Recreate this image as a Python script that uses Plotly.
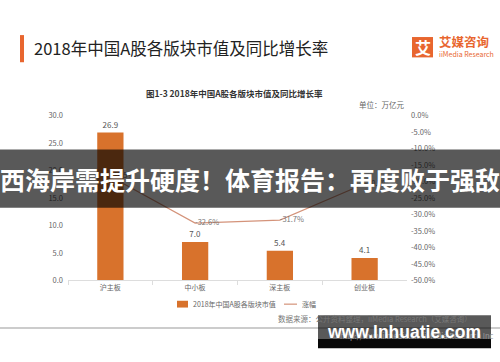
import plotly.graph_objects as go

W, H = 500, 362
FONT = "Noto Sans CJK SC"

categories = ["沪主板", "中小板", "深主板", "创业板"]
market_value = [26.9, 7.0, 5.4, 4.1]
growth = [-18.5, -32.6, -31.7, -20.7]
growth_labels = ["-18.5%", "-32.6%", "-31.7%", "-20.7%"]
left_ticks = [0, 5, 10, 15, 20, 25, 30]
left_tick_labels = ["0.0", "5.0", "10.0", "15.0", "20.0", "25.0", "30.0"]
right_ticks = [0, -5, -10, -15, -20, -25, -30, -35, -40, -45, -50]
right_tick_labels = ["0.0%", "-5.0%", "-10.0%", "-15.0%", "-20.0%", "-25.0%",
                     "-30.0%", "-35.0%", "-40.0%", "-45.0%", "-50.0%"]
bar_name = "2018年中国A股各版块市值"
line_name = "涨幅"

BAR = "#D8722C"
LINE = "#D4937A"
GRAY = "#666666"

def px(x):
    return x / W

def py(y):
    return 1 - y / H

fig = go.Figure()
fig.add_trace(go.Bar(
    x=categories, y=market_value, name=bar_name,
    marker=dict(color=BAR, line=dict(width=0)), width=0.31,
    text=[f"{v:.1f}" for v in market_value], textposition="outside",
    textfont=dict(size=8, color="#555555", family=FONT), cliponaxis=False,
))
fig.add_trace(go.Scatter(
    x=categories, y=growth, name=line_name, yaxis="y2", mode="lines+text",
    line=dict(color=LINE, width=1.2),
    text=growth_labels, textposition="middle right",
    textfont=dict(size=7.5, color="#777777", family=FONT), cliponaxis=False,
))

fig.update_layout(
    width=W, height=H, margin=dict(l=0, r=0, t=0, b=0),
    paper_bgcolor="white", plot_bgcolor="white",
    font=dict(family=FONT, size=8, color=GRAY),
    showlegend=False,
    xaxis=dict(domain=[px(68), px(407)], range=[-0.5, 3.5], showgrid=False,
               showline=True, linecolor="#dddddd", linewidth=1,
               ticks="outside", tickson="boundaries", ticklen=4,
               tickcolor="#dddddd", tickfont=dict(size=7, color=GRAY),
               anchor="y"),
    yaxis=dict(domain=[py(283), py(113)], range=[0, 30], showgrid=False,
               zeroline=False, showline=False, tickvals=left_ticks,
               ticktext=left_tick_labels, ticklabelstandoff=4,
               tickfont=dict(size=7.5, color=GRAY)),
    yaxis2=dict(overlaying="y", side="right", range=[-50, 0], showgrid=False,
                zeroline=False, showline=False, tickvals=right_ticks,
                ticktext=right_tick_labels, ticklabelstandoff=3,
                tickfont=dict(size=7.5, color=GRAY), anchor="x"),
)

P = dict(xref="paper", yref="paper")

shapes = [
    dict(type="rect", x0=px(20), x1=px(24), y0=py(58), y1=py(30),
         fillcolor="#E8662F", line=dict(width=0), **P),
    dict(type="rect", x0=px(412), x1=px(433), y0=py(53), y1=py(32),
         fillcolor="#E8662F", line=dict(width=0), **P),
    dict(type="line", x0=0, x1=1, y0=py(332), y1=py(332),
         line=dict(color="#cccccc", width=2), **P),
    # legend keys
    dict(type="rect", x0=px(177), x1=px(188), y0=py(311), y1=py(304),
         fillcolor=BAR, line=dict(width=0), **P),
    dict(type="line", x0=px(284), x1=px(297), y0=py(307.5), y1=py(307.5),
         line=dict(color=LINE, width=1.2), **P),
]

def ann(text, x, y, size, color, xanchor="left", family=FONT):
    return dict(text=text, x=px(x), y=py(y), xanchor=xanchor,
                yanchor="middle", showarrow=False,
                font=dict(size=size, color=color, family=family), **P)

annotations = [
    ann("2018年中国A股各版块市值及同比增长率", 32, 43, 16.5, "#222222"),
    ann("<b>艾</b>", 422.5, 42.5, 16, "white", "center"),
    ann("<b>艾媒咨询</b>", 437, 37, 12.5, "#E8662F"),
    ann("iiMedia Research", 437, 50, 7, "#E8662F"),
    ann("<b>图1-3 2018年中国A股各版块市值及同比增长率</b>", 234, 90, 8.5,
        "#333333", "center"),
    ann("单位：万亿元", 357, 102, 7.5, GRAY),
    ann(bar_name, 191, 307.5, 7, GRAY),
    ann(line_name, 300, 307.5, 7, GRAY),
    ann("数据来源：公开资料整理，iiMedia Research（艾媒咨询）", 474, 322, 7.5,
        "#777777", "right"),
    ann("© http://www.iimedia.cn  iiMedia Research Inc", 496, 340, 7.5,
        "#999999", "right"),
]

# overlay banner and watermark (drawn above everything)
shapes += [
    dict(type="rect", x0=0, x1=1, y0=py(208), y1=py(148),
         fillcolor="rgba(0,0,0,0.65)", line=dict(width=0), layer="above", **P),
    dict(type="rect", x0=px(318), x1=px(491), y0=py(343), y1=py(319),
         fillcolor="rgba(0,0,0,0.65)", line=dict(width=0), layer="above", **P),
    dict(type="rect", x0=px(318), x1=px(491), y0=py(353), y1=py(343),
         fillcolor="rgba(0,0,0,0.97)", line=dict(width=0), layer="above", **P),
]
annotations += [
    ann("<b>西海岸需提升硬度！体育报告：再度败于强敌</b>", 250, 178, 25,
        "white", "center"),
    ann("<b>www.lnhuatie.com</b>", 404, 336, 17.5, "white", "center",
        "Liberation Sans"),
]

fig.update_layout(shapes=shapes, annotations=annotations)
fig.write_html(
    "out.html",
    config={"displayModeBar": False},
    post_script="document.body.style.margin='0';document.body.style.overflow='hidden';",
)
